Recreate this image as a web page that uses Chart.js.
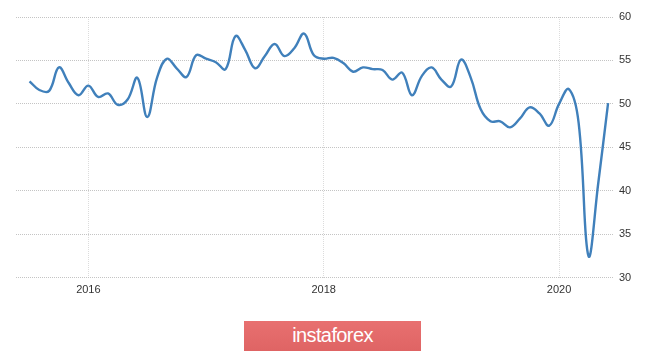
<!DOCTYPE html>
<html>
<head>
<meta charset="utf-8">
<script src="https://cdn.jsdelivr.net/npm/chart.js@4/dist/chart.umd.min.js"></script>
<style>
  body{margin:0;background:#fff;}
  #wrap{position:relative;width:665px;height:352px;}
  .logo{position:absolute;left:244px;top:321px;width:177px;height:30px;
    background:linear-gradient(#e87070,#df6464);color:#fff;text-align:center;
    font-family:"Liberation Sans",Arial,sans-serif;font-size:20px;letter-spacing:-0.6px;line-height:29px;}
</style>
</head>
<body>
<div id="wrap">
  <canvas id="pmi" width="665" height="352"></canvas>
  <div class="logo">instaforex</div>
</div>
<script>
// monthly, Jul 2015 .. Jun 2020
const startYear = 2015, startMonth = 6; // July (0-based)
const pmiValues = [
  52.6, 51.6, 51.5, 54.2, 52.4, 51.0,
  52.1, 50.8, 51.2, 49.9, 50.5, 53.0, 48.5, 53.0, 55.2, 54.1, 53.1, 55.6,
  55.2, 54.8, 54.0, 57.8, 56.2, 54.1, 55.5, 56.9, 55.5, 56.4, 58.1, 55.6,
  55.2, 55.3, 54.7, 53.7, 54.2, 54.0, 53.9, 52.8, 53.6, 51.0, 53.2, 54.2,
  52.8, 52.0, 55.1, 53.0, 49.4, 48.0, 48.0, 47.3, 48.3, 49.6, 48.9, 47.5,
  50.0, 51.7, 47.8, 32.5, 40.9, 50.1
];
const xTicks = [2016, 2018, 2020];
const yTicks = [30, 35, 40, 45, 50, 55, 60];

const points = pmiValues.map((v,i)=>({x: startYear + (startMonth+i)/12, y: v}));

const ctx = document.getElementById('pmi').getContext('2d');
new Chart(ctx, {
  type: 'line',
  data: {
    datasets: [{
      data: points,
      borderColor: '#4080bb',
      borderWidth: 2.4,
      pointRadius: 0,
      tension: 0.4,
      fill: false
    }]
  },
  options: {
    responsive: false,
    animation: false,
    layout: {padding: {left: 16, top: 17, right: 0, bottom: 0}},
    plugins: {legend: {display: false}, tooltip: {enabled: false}},
    scales: {
      x: {
        type: 'linear',
        min: 2015.385,
        max: 2020.467,
        afterBuildTicks: s => { s.ticks = xTicks.map(v=>({value: v})); },
        afterFit: s => { s.height = 74.3; },
        grid: {color: '#dcdcdc', drawTicks: false},
        border: {display: false, dash: [1,1]},
        ticks: {color: '#333', padding: 6, font: {family: 'Arial', size: 11}, callback: v => String(v)}
      },
      y: {
        position: 'right',
        min: 30,
        max: 60,
        afterBuildTicks: s => { s.ticks = yTicks.map(v=>({value: v})); },
        afterFit: s => { s.width = 51; },
        grid: {color: '#c4c4c4', drawTicks: false},
        border: {display: false, dash: [1,1]},
        ticks: {color: '#333', padding: 5, font: {family: 'Arial', size: 11}}
      }
    }
  }
});
</script>
</body>
</html>
